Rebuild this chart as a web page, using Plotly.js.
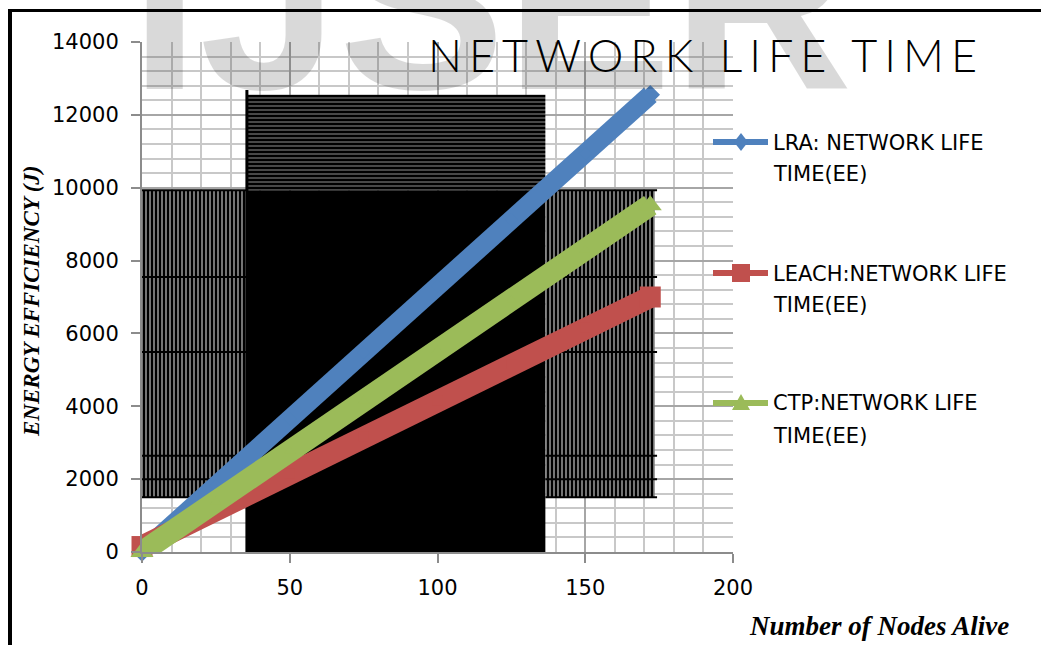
<!DOCTYPE html>
<html>
<head>
<meta charset="utf-8">
<script src="https://cdn.plot.ly/plotly-3.0.1.min.js"></script>
<style>
  html, body { margin: 0; padding: 0; background: #fff; }
  #wrap { position: relative; width: 1041px; height: 645px; overflow: hidden; }
  #chart { position: absolute; left: 0; top: 0; width: 1041px; height: 645px; }
  .frame-top { position: absolute; left: 8px; top: 9px; width: 1033px; height: 3px; background: #000; }
  .frame-left { position: absolute; left: 8px; top: 9px; width: 4px; height: 636px; background: #000; }
  .gtitle { letter-spacing: 7px; }
</style>
</head>
<body>
<div id="wrap">
  <div id="chart"></div>
  <div class="frame-top"></div>
  <div class="frame-left"></div>
</div>
<script>
// Number of nodes alive and energy efficiency (J) for each protocol
const nodesAlive  = [0, 25, 50, 75, 100, 125, 150, 172];
const lraEnergy   = [0, 1820, 3650, 5470, 7300, 9120, 10940, 12550];
const leachEnergy = [150, 1150, 2150, 3160, 4160, 5160, 6170, 7000];
const ctpEnergy   = [0, 1380, 2770, 4150, 5530, 6910, 8290, 9520];

const seriesNames  = ['LRA: NETWORK LIFE TIME(EE)', 'LEACH:NETWORK LIFE TIME(EE)', 'CTP:NETWORK LIFE TIME(EE)'];
const seriesColors = ['#4F81BD', '#C0504D', '#9BBB59'];
const seriesSymbols = ['diamond', 'square', 'triangle-up'];

const xTickVals = [0, 50, 100, 150, 200];
const yTickVals = [0, 2000, 4000, 6000, 8000, 10000, 12000, 14000];

// Dark hatched panels printed behind the series (x from/to, y from/to)
const panelX0 = [0, 35.5, 35.5, 136.5];
const panelX1 = [35.5, 136.5, 136.5, 173.5];
const panelY0 = [1500, 9930, 0, 1500];
const panelY1 = [9930, 12550, 9930, 9930];
const rulingLevels = [9930, 7550, 5490, 2640, 2000, 1500];

const panelStyles = [
  { shape: '|', fgcolor: '#000', bgcolor: '#9a9a9a', size: 4, solidity: 0.62 },
  { shape: '-', fgcolor: '#000', bgcolor: '#5a5a5a', size: 4, solidity: 0.6 },
  null,
  { shape: '|', fgcolor: '#000', bgcolor: '#9a9a9a', size: 4, solidity: 0.62 }
];

const traces = [];

panelX0.forEach((x0, i) => {
  const st = panelStyles[i];
  const marker = st
    ? { color: st.fgcolor, line: { width: 0 },
        pattern: { shape: st.shape, fgcolor: st.fgcolor, bgcolor: st.bgcolor, size: st.size, solidity: st.solidity, fillmode: 'replace' } }
    : { color: '#000', line: { width: 0 } };
  traces.push({
    type: 'bar',
    x: [(x0 + panelX1[i]) / 2],
    width: [panelX1[i] - x0],
    base: [panelY0[i]],
    y: [panelY1[i] - panelY0[i]],
    marker: marker,
    showlegend: false,
    hoverinfo: 'skip'
  });
});

// Horizontal rulings across the two side panels
const ruleX = [], ruleY = [];
rulingLevels.forEach(v => {
  ruleX.push(panelX0[0], panelX1[0], null, panelX0[3], panelX1[3] + 0.8, null);
  ruleY.push(v, v, null, v, v, null);
});
traces.push({
  type: 'scatter', mode: 'lines', x: ruleX, y: ruleY,
  line: { color: '#000', width: 2 }, showlegend: false, hoverinfo: 'skip'
});

// Left edge of the central panel
traces.push({
  type: 'scatter', mode: 'lines',
  x: [panelX0[1], panelX0[1]], y: [0, panelY1[1] + 130],
  line: { color: '#000', width: 3 }, showlegend: false, hoverinfo: 'skip'
});

const seriesValues = [lraEnergy, leachEnergy, ctpEnergy];
const lineWidths = [19, 22, 22];
const endMarkerSizes = [15, 21, 20];
seriesValues.forEach((vals, i) => {
  // markers stay inside the broad stroke except at the two ends
  const sizes = vals.map((v, k) => (k === 0 || k === vals.length - 1) ? endMarkerSizes[i] : 10);
  traces.push({
    type: 'scatter', mode: 'lines+markers',
    name: seriesNames[i],
    x: nodesAlive, y: vals,
    line: { color: seriesColors[i], width: lineWidths[i] },
    marker: { symbol: seriesSymbols[i], size: sizes, opacity: 1, color: seriesColors[i], line: { width: 0 } },
    cliponaxis: false,
    showlegend: false,
    hoverinfo: 'skip'
  });
});

// Plot area in pixels: x 142..733, y 42..552
const plotL = 142, plotR = 733, plotT = 42, plotB = 552;
const px2x = p => (p - plotL) / (plotR - plotL);
const px2y = p => (plotB - p) / (plotB - plotT);

const annotations = [
  {
    text: 'IJSER', xref: 'paper', yref: 'paper',
    x: px2x(128), y: px2y(144), xanchor: 'left', yanchor: 'bottom',
    showarrow: false,
    font: { family: 'Liberation Sans', size: 250, color: 'rgba(0,0,0,0.15)', weight: 'bold' }
  },
  {
    text: 'ENERGY EFFICIENCY (J)', xref: 'paper', yref: 'paper',
    x: px2x(31), y: px2y(301), xanchor: 'center', yanchor: 'middle', textangle: -90,
    showarrow: false,
    font: { family: 'Liberation Serif', size: 23, color: '#000', weight: 'bold', style: 'italic' }
  },
  {
    text: 'Number of Nodes Alive', xref: 'paper', yref: 'paper',
    x: px2x(879), y: px2y(626), xanchor: 'center', yanchor: 'middle',
    showarrow: false,
    font: { family: 'Liberation Serif', size: 27, color: '#000', weight: 'bold', style: 'italic' }
  }
];

const shapes = [];
const legendRowY = [142, 273, 403];
const legendMarkerPaths = [
  'M-7,0 L0,9 L7,0 L0,-9 Z',
  'M-9,-9 L9,-9 L9,9 L-9,9 Z',
  'M-9,-7 L9,-7 L0,9 Z'
];
seriesNames.forEach((name, i) => {
  const cut = name.lastIndexOf(' ');
  const rowY = legendRowY[i];
  shapes.push({
    type: 'line', xref: 'paper', yref: 'paper',
    x0: px2x(713), x1: px2x(768), y0: px2y(rowY), y1: px2y(rowY),
    line: { color: seriesColors[i], width: 6 }
  });
  shapes.push({
    type: 'path', xref: 'paper', yref: 'paper',
    xsizemode: 'pixel', ysizemode: 'pixel',
    xanchor: px2x(741), yanchor: px2y(rowY),
    path: legendMarkerPaths[i],
    fillcolor: seriesColors[i], line: { width: 0 }
  });
  annotations.push({
    text: name.slice(0, cut), xref: 'paper', yref: 'paper',
    x: px2x(771), y: px2y(rowY + 0.5), xanchor: 'left', yanchor: 'middle',
    showarrow: false, font: { family: 'DejaVu Sans', size: 21, color: '#000' }
  });
  annotations.push({
    text: name.slice(cut + 1), xref: 'paper', yref: 'paper',
    x: px2x(771), y: px2y(rowY + 32.5), xanchor: 'left', yanchor: 'middle',
    showarrow: false, font: { family: 'DejaVu Sans', size: 21, color: '#000' }
  });
});

const axisCommon = {
  ticks: 'outside', ticklen: 9, tickwidth: 2, tickcolor: '#8c8c8c',
  showline: true, linecolor: '#8c8c8c', linewidth: 2,
  showgrid: true, gridcolor: '#a6a6a6', gridwidth: 2,
  zeroline: false, fixedrange: true, tickformat: 'd',
  tickfont: { family: 'DejaVu Sans', size: 21, color: '#000' }
};

const layout = {
  width: 1041, height: 645,
  margin: { l: plotL, r: 1041 - plotR, t: plotT, b: 645 - plotB, pad: 0 },
  paper_bgcolor: '#fff', plot_bgcolor: '#fff',
  showlegend: false, barmode: 'overlay', hovermode: false,
  title: {
    text: 'NETWORK LIFE TIME',
    font: { family: 'Lato', size: 45, color: '#000', weight: 300 },
    xref: 'container', yref: 'container',
    x: 428 / 1041, xanchor: 'left',
    y: 1 - 40 / 645, yanchor: 'top'
  },
  xaxis: Object.assign({}, axisCommon, {
    range: [0, 200], tickmode: 'array', tickvals: xTickVals,
    ticklabelstandoff: 7,
    minor: { tick0: 0, dtick: 10, showgrid: true, gridcolor: '#c8c8c8', gridwidth: 2, ticks: '' }
  }),
  yaxis: Object.assign({}, axisCommon, {
    range: [0, 14000], tickmode: 'array', tickvals: yTickVals,
    ticklabelstandoff: 8,
    minor: { tick0: 0, dtick: 400, showgrid: true, gridcolor: '#c8c8c8', gridwidth: 2, ticks: '' }
  }),
  annotations: annotations,
  shapes: shapes
};

Plotly.newPlot('chart', traces, layout, { staticPlot: true, displayModeBar: false });
</script>
</body>
</html>
